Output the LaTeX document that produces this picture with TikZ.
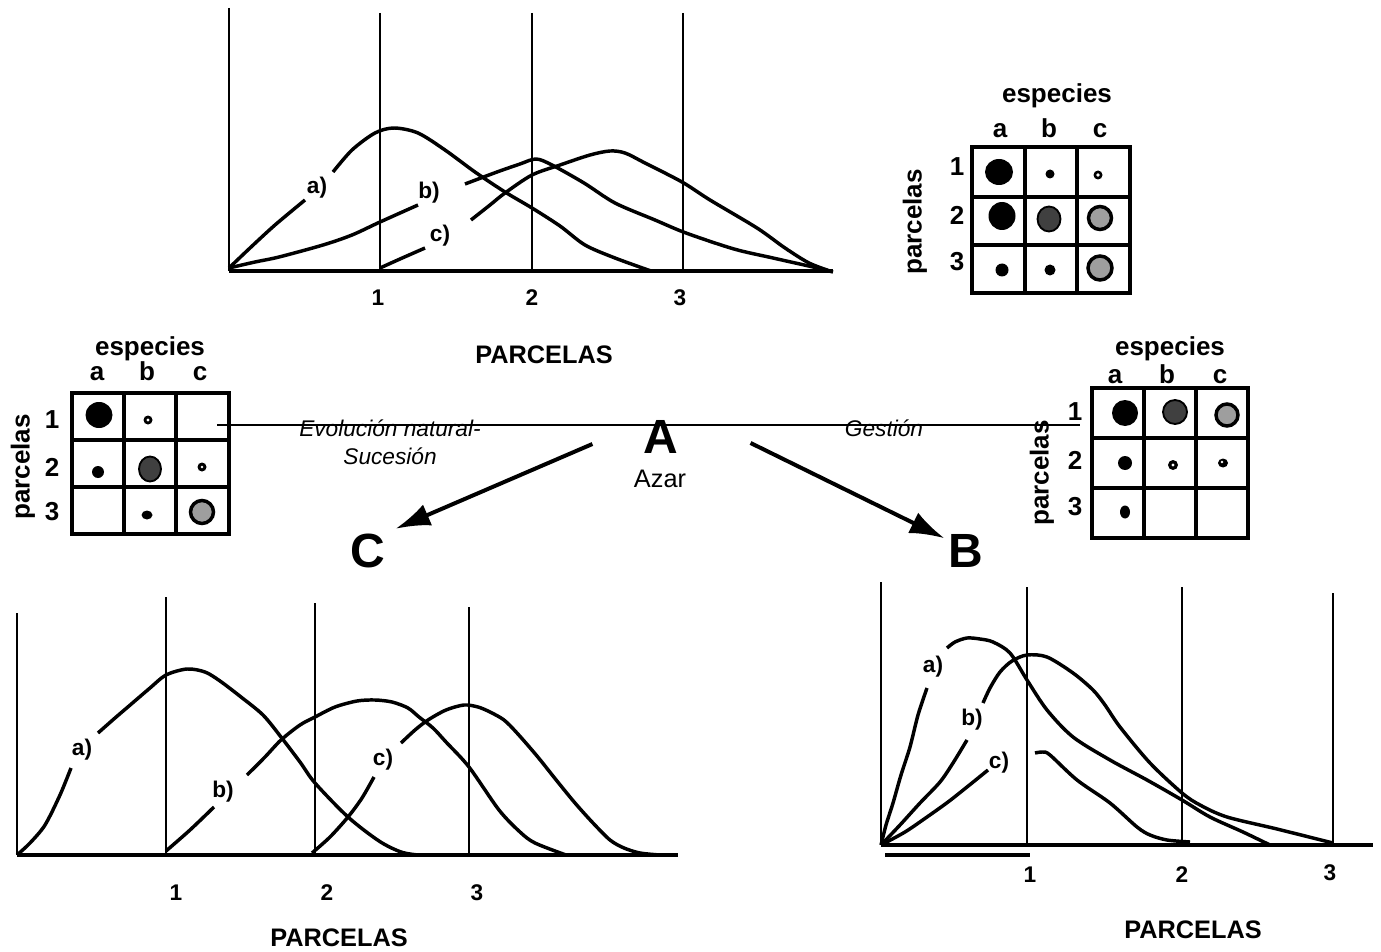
\documentclass[tikz,border=0pt]{standalone}
\usepackage{fontspec}
\setmainfont{Liberation Sans}
\usetikzlibrary{arrows.meta}

\begin{document}
\begin{tikzpicture}[x=0.75pt,y=0.75pt,yscale=-1,xscale=1,
  eje/.style={line width=1.8pt},
  base/.style={line width=2.5pt},
  curva/.style={line width=2.6pt, line join=round},
  marco/.style={line width=3.4pt},
  linea/.style={line width=1.5pt},
  oscuro/.style={fill=black!75, draw=black, line width=1.4pt},
  claro/.style={fill=black!38, draw=black, line width=2.6pt},
  rotulo/.style={inner sep=0.75pt, font=\bfseries\fontsize{19.5}{22}\selectfont},
  col/.style={rotulo, text height=14pt, text depth=0pt},
  cifra/.style={inner sep=0.75pt, font=\bfseries\fontsize{17}{20}\selectfont},
  parc/.style={inner sep=0.75pt, font=\bfseries\fontsize{19}{22}\selectfont},
  letra/.style={inner sep=0.75pt, font=\bfseries\fontsize{17}{20}\selectfont},
  grande/.style={inner sep=0.75pt, font=\bfseries\fontsize{36}{40}\selectfont},
  cursiva/.style={inner sep=0.75pt, font=\itshape\fontsize{17}{20}\selectfont},
  flecha/.style={line width=3pt, -{Latex[length=26pt,width=17pt]}}]
\useasboundingbox (0,0) rectangle (1381,952);

%%%%%%%%%% top chart
%Straight Lines
\draw[eje] (229,8) -- (229,271) ;
\draw[eje] (380,13) -- (380,271) ;
\draw[eje] (532,13) -- (532,271) ;
\draw[eje] (683,13) -- (683,271) ;
\draw[base] (229,271) -- (833,271) ;
%Curve a)
\draw[curva] plot[smooth] coordinates {(229,268) (250,248) (275,225) (305,200)} ;
\draw[curva] plot[smooth] coordinates {(333,172) (352,150) (375,133) (394,128) (418,133) (445,150) (475,172) (505,192) (532,208) (560,226) (585,245) (615,258) (651,271)} ;
%Curve b)
\draw[curva] plot[smooth] coordinates {(229,268) (255,262) (279,257) (323,245) (352,235) (380,222) (418,205)} ;
\draw[curva] plot[smooth] coordinates {(465,184) (497,172) (520,164) (536,159) (552,165) (584,183) (615,203) (655,220) (686,233) (734,249) (773,258) (813,267) (833,272)} ;
%Curve c)
\draw[curva] plot[smooth] coordinates {(380,268) (400,259) (425,248)} ;
\draw[curva] plot[smooth] coordinates {(471,220) (490,205) (505,193) (532,175) (560,165) (590,155) (610,151) (625,153) (645,163) (682,182) (710,200) (757,228) (785,248) (809,263) (830,271)} ;

% Text Node
\node[letra] (ta) at (317,188) {a)};
\node[letra] (tb) at (429,193) {b)};
\node[letra] (tc) at (440,236) {c)};
\node[cifra] (t1) at (378,298) {1};
\node[cifra] (t2) at (532,298) {2};
\node[cifra] (t3) at (680,298) {3};
\node[parc] (tparc) at (544,355) {PARCELAS};

%%%%%%%%%% top right matrix
%Shape: Rectangle
\draw[marco] (972,147) rectangle (1130,293) ;
\draw[marco] (1025,147) -- (1025,293) ;
\draw[marco] (1077,147) -- (1077,293) ;
\draw[marco] (972,197) -- (1130,197) ;
\draw[marco] (972,245) -- (1130,245) ;
%Shape: Circles
\fill (999,172) ellipse (14 and 13) ;
\fill (1050,174) circle (4.5) ;
\fill (1098,175) circle (4.5) ;
\fill[white] (1098,175) circle (1.8) ;
\fill (1002,216) ellipse (13.5 and 14) ;
\draw[oscuro] (1049,219) ellipse (11.5 and 12.5) ;
\draw[claro] (1100,218) circle (11.5) ;
\fill (1002,270) circle (6.5) ;
\fill (1050,270) circle (5.5) ;
\draw[claro] (1100,268) circle (12) ;

% Text Node
\node[rotulo] (esp1) at (1057,96) {especies};
\node[col] (esp1a) at (1000,128) {a};
\node[col] (esp1b) at (1049,128) {b};
\node[col] (esp1c) at (1100,128) {c};
\node[rotulo] (par1a) at (957,167) {1};
\node[rotulo] (par1b) at (957,215) {2};
\node[rotulo] (par1c) at (957,262) {3};
\node[rotulo, rotate=90] (par1) at (915,222) {parcelas};

%%%%%%%%%% left matrix
%Shape: Rectangle
\draw[marco] (72,393) rectangle (229,534) ;
\draw[marco] (124,393) -- (124,534) ;
\draw[marco] (176,393) -- (176,534) ;
\draw[marco] (72,440) -- (229,440) ;
\draw[marco] (72,487) -- (229,487) ;
%Shape: Circles
\fill (99,415) ellipse (13.5 and 13) ;
\fill (148,420) circle (4.5) ;
\fill[white] (148,420) circle (1.6) ;
\fill (98,472) circle (6) ;
\draw[oscuro] (150,469) ellipse (11 and 12.5) ;
\fill (202,467) circle (4.5) ;
\fill[white] (202,467) circle (1.4) ;
\fill (147,515) ellipse (5.5 and 4.5) ;
\draw[claro] (202,512) circle (11.5) ;

% Text Node
\node[rotulo] (esp2) at (150,349) {especies};
\node[col] (esp2a) at (97,371) {a};
\node[col] (esp2b) at (147,371) {b};
\node[col] (esp2c) at (200,371) {c};
\node[rotulo] (par2a) at (52,420) {1};
\node[rotulo] (par2b) at (52,467) {2};
\node[rotulo] (par2c) at (52,512) {3};
\node[rotulo, rotate=90] (par2) at (23,467) {parcelas};

%%%%%%%%%% right matrix
%Shape: Rectangle
\draw[marco] (1092,388) rectangle (1248,538) ;
\draw[marco] (1144,388) -- (1144,538) ;
\draw[marco] (1196,388) -- (1196,538) ;
\draw[marco] (1092,438) -- (1248,438) ;
\draw[marco] (1092,488) -- (1248,488) ;
%Shape: Circles
\fill (1125,413) circle (13) ;
\draw[oscuro] (1175,412) circle (12) ;
\draw[claro] (1227,415) circle (11) ;
\fill (1125,463) circle (7) ;
\fill (1173,465) circle (5) ;
\fill[white] (1173,465) circle (1.6) ;
\fill (1223,463) ellipse (5 and 4.5) ;
\fill[white] (1222,462) circle (1.3) ;
\fill (1125,512) ellipse (5 and 6.5) ;

% Text Node
\node[rotulo] (esp3) at (1170,349) {especies};
\node[col] (esp3a) at (1115,374) {a};
\node[col] (esp3b) at (1167,374) {b};
\node[col] (esp3c) at (1220,374) {c};
\node[rotulo] (par3a) at (1075,412) {1};
\node[rotulo] (par3b) at (1075,460) {2};
\node[rotulo] (par3c) at (1075,507) {3};
\node[rotulo, rotate=90] (par3) at (1042,473) {parcelas};

%%%%%%%%%% middle
%Straight Lines
\draw[linea] (217,425) -- (1080,425) ;

% Text Node
\node[cursiva] (evol) at (390,428) {Evolución natural-};
\node[cursiva] (suc) at (390,456) {Sucesión};
\node[cursiva] (gest) at (884,428) {Gestión};
\node[grande] (A) at (661,437) {A};
\node[inner sep=0.75pt, font=\fontsize{19}{22}\selectfont] (azar) at (660,479) {Azar};
\node[grande] (C) at (368,551) {C};
\node[grande] (B) at (966,551) {B};

%Straight Lines
\draw[flecha] (A.west) ++(-50,7) -- ([shift={(9,-4)}]C.north east) ;
\draw[flecha] (A.east) ++(71,6) -- ([shift={(-3,5)}]B.north west) ;

%%%%%%%%%% bottom left chart
%Straight Lines
\draw[eje] (17,613) -- (17,855) ;
\draw[eje] (166,597) -- (166,855) ;
\draw[eje] (315,603) -- (315,855) ;
\draw[eje] (469,607) -- (469,855) ;
\draw[base] (17,855) -- (678,855) ;
%Curve a)
\draw[curva] plot[smooth] coordinates {(17,855) (30,843) (45,825) (60,795) (71,768)} ;
\draw[curva] plot[smooth] coordinates {(98,733) (115,718) (129,706) (150,688) (166,675) (187,669) (205,672) (220,681) (241,697) (263,715) (281,737) (300,762) (315,783) (348,817) (379,841) (401,852) (418,855)} ;
%Curve b)
\draw[curva] plot[smooth] coordinates {(166,851) (190,830) (214,807)} ;
\draw[curva] plot[smooth] coordinates {(247,775) (265,757) (281,740) (300,725) (315,717) (335,707) (357,701) (375,700) (392,702) (408,708) (419,717) (433,728) (446,742) (469,767) (499,810) (520,832) (535,843) (566,855)} ;
%Curve c)
\draw[curva] plot[smooth] coordinates {(312,853) (330,837) (348,817) (362,798) (374,777)} ;
\draw[curva] plot[smooth] coordinates {(401,743) (415,730) (428,720) (446,710) (464,705) (478,707) (490,712) (504,720) (517,733) (537,756) (557,781) (575,803) (593,823) (610,840) (624,848) (640,853) (660,855)} ;

% Text Node
\node[letra] (ba) at (82,750) {a)};
\node[letra] (bb) at (223,792) {b)};
\node[letra] (bc) at (383,760) {c)};
\node[cifra] (b1) at (176,893) {1};
\node[cifra] (b2) at (327,893) {2};
\node[cifra] (b3) at (477,893) {3};
\node[parc] (bparc) at (339,938) {PARCELAS};

%%%%%%%%%% bottom right chart
%Straight Lines
\draw[eje] (881,582) -- (881,845) ;
\draw[eje] (1027,587) -- (1027,845) ;
\draw[eje] (1182,587) -- (1182,845) ;
\draw[eje] (1333,593) -- (1333,845) ;
\draw[base] (881,845) -- (1373,845) ;
\draw[base] (885,855) -- (1030,855) ;
%Curve a)
\draw[curva] plot[smooth] coordinates {(881,845) (886,825) (893,803) (901,775) (910,747) (918,715) (927,688)} ;
\draw[curva] plot[smooth] coordinates {(947,648) (955,642) (967,638) (980,639) (993,642) (1010,653) (1027,680) (1047,710) (1073,737) (1110,760) (1147,780) (1182,800) (1210,817) (1243,832) (1270,845)} ;
%Curve b)
\draw[curva] plot[smooth] coordinates {(881,845) (900,825) (920,803) (940,782) (953,763) (967,740)} ;
\draw[curva] plot[smooth] coordinates {(983,703) (990,688) (1000,672) (1012,661) (1027,655) (1047,657) (1073,673) (1093,690) (1105,705) (1120,727) (1150,763) (1182,793) (1200,805) (1227,817) (1277,829) (1333,843)} ;
%Curve c)
\draw[curva] plot[smooth] coordinates {(881,845) (905,832) (927,817) (948,802) (967,787) (988,770)} ;
\draw[curva] plot[smooth] coordinates {(1035,753) (1043,752) (1050,755) (1077,780) (1110,803) (1137,827) (1150,835) (1167,840) (1190,842)} ;

% Text Node
\node[letra] (da) at (933,667) {a)};
\node[letra] (db) at (972,720) {b)};
\node[letra] (dc) at (999,763) {c)};
\node[cifra] (d1) at (1030,875) {1};
\node[cifra] (d2) at (1182,875) {2};
\node[cifra] (d3) at (1330,873) {3};
\node[parc] (dparc) at (1193,930) {PARCELAS};

\end{tikzpicture}
\end{document}
